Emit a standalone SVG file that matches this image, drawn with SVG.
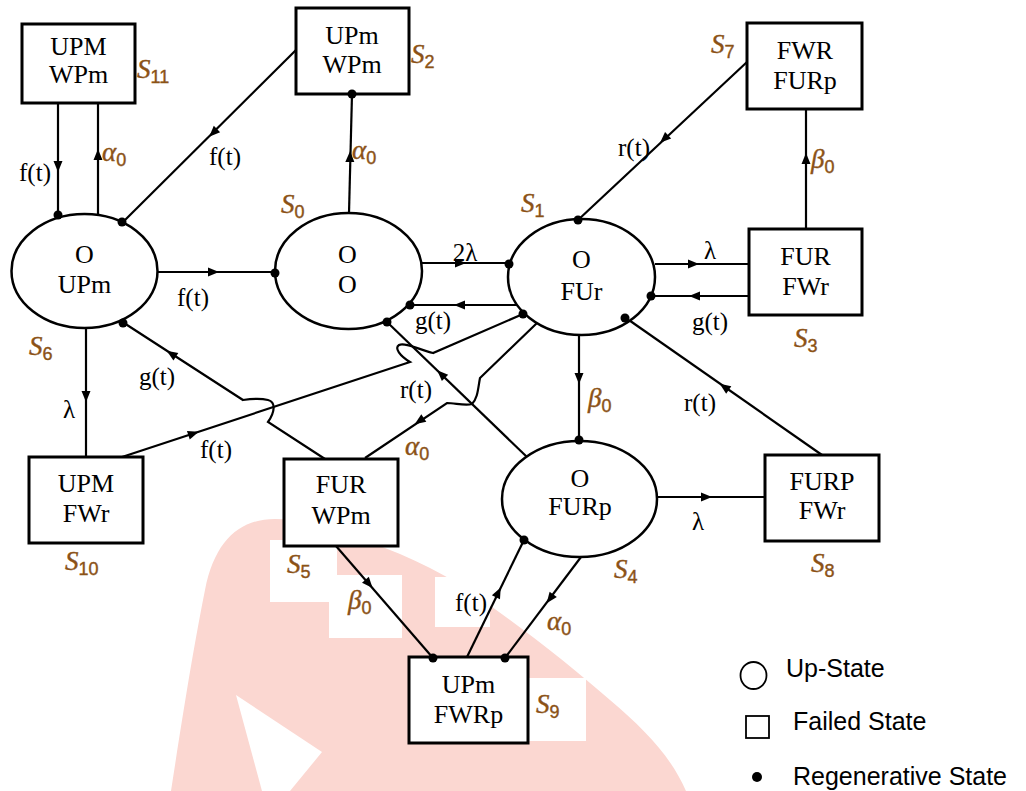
<svg xmlns="http://www.w3.org/2000/svg" xmlns:xlink="http://www.w3.org/1999/xlink" width="1026" height="791" viewBox="0 0 1026 791">
<style>
.box{fill:#fff;stroke:#000;stroke-width:3}
.st{fill:#fff;stroke:#000;stroke-width:2.5}
.ln{fill:none;stroke:#000;stroke-width:2.2}
.dot{fill:#000}
.nt{font-family:"Liberation Serif","Times New Roman",serif;font-size:26px;text-anchor:middle;fill:#000}
.el{font-family:"Liberation Serif","Times New Roman",serif;font-size:25px;text-anchor:middle;fill:#000}
.s{font-family:"Liberation Serif","Times New Roman",serif;font-style:italic;font-size:27px;fill:#8b5216;stroke:#8b5216;stroke-width:0.4}
.sub{font-style:normal;font-size:18px;font-family:"Liberation Sans",Arial,sans-serif}
.lg{font-family:"Liberation Sans",Arial,sans-serif;font-size:25px;fill:#000}
</style>
<defs>
<path id="ah" d="M4,0 L-7,-4.5 L-7,4.5 Z" fill="#000"/>
</defs>
<rect width="1026" height="791" fill="#fff"/>
<g id="watermark">
<path d="M171,791 C185,700 195,640 205,590 C215,540 240,519 275,519 C300,519 320,525 340,532 C380,545 420,560 460,585 C520,625 570,665 610,700 C645,730 670,755 686,791 Z" fill="#fbd7d1"/>
<path d="M236,695 L322,752 L290,791 L262,791 Z" fill="#fff"/>
<rect x="270" y="540" width="67" height="62" fill="#fff"/>
<rect x="329" y="575" width="73" height="63" fill="#fff"/>
<rect x="435" y="577" width="55" height="50" fill="#fff"/>
<rect x="529" y="678" width="57" height="63" fill="#fff"/>
</g>
<g id="connectors">
<path class="ln" d="M58,103 L58,216"/>
<path class="ln" d="M98,214 L98,103"/>
<path class="ln" d="M296,50 L123,222"/>
<path class="ln" d="M349,213 L352,94"/>
<path class="ln" d="M158,272 L275,272"/>
<path class="ln" d="M422,263 L509,263"/>
<path class="ln" d="M517,305 L410,305"/>
<path class="ln" d="M655,264 L749,264"/>
<path class="ln" d="M749,296 L650,296"/>
<path class="ln" d="M747,62 L578,220"/>
<path class="ln" d="M806,229 L806,109"/>
<path class="ln" d="M579,335 L579,441"/>
<path class="ln" d="M822,455 L626,318"/>
<path class="ln" d="M657,497 L765,497"/>
<path class="ln" d="M86,328 L86,457"/>
<path class="ln" d="M122,457 L410,362 C400,356 394,348 399,345 C405,342 420,350 433,353 L523,314"/>
<path class="ln" d="M527,457 L387,322"/>
<path class="ln" d="M325,459 L268,422 C275,412 276,402 268,400 C260,398 250,399 243,400 L124,323"/>
<path class="ln" d="M537,323 L480,378 C478,388 478,398 472,404 C465,406 455,403 447,403 L365,458"/>
<path class="ln" d="M336,546 L433,658"/>
<path class="ln" d="M467,657 L524,540"/>
<path class="ln" d="M581,557 L505,658"/>
<use xlink:href="#ah" transform="translate(58,168) rotate(90)"/>
<use xlink:href="#ah" transform="translate(98,153) rotate(-90)"/>
<use xlink:href="#ah" transform="translate(212,134) rotate(135.2)"/>
<use xlink:href="#ah" transform="translate(350,155) rotate(-88.6)"/>
<use xlink:href="#ah" transform="translate(215,272)"/>
<use xlink:href="#ah" transform="translate(462,263)"/>
<use xlink:href="#ah" transform="translate(458,305) rotate(180)"/>
<use xlink:href="#ah" transform="translate(695,264)"/>
<use xlink:href="#ah" transform="translate(693,296) rotate(180)"/>
<use xlink:href="#ah" transform="translate(663,140) rotate(136.9)"/>
<use xlink:href="#ah" transform="translate(806,157) rotate(-90)"/>
<use xlink:href="#ah" transform="translate(579,380) rotate(90)"/>
<use xlink:href="#ah" transform="translate(723,386) rotate(-145)"/>
<use xlink:href="#ah" transform="translate(708,497)"/>
<use xlink:href="#ah" transform="translate(86,398) rotate(90)"/>
<use xlink:href="#ah" transform="translate(195,433) rotate(-18.25)"/>
<use xlink:href="#ah" transform="translate(440,373) rotate(-136)"/>
<use xlink:href="#ah" transform="translate(170,353) rotate(-147.1)"/>
<use xlink:href="#ah" transform="translate(418,422) rotate(146.1)"/>
<use xlink:href="#ah" transform="translate(370,585) rotate(49.1)"/>
<use xlink:href="#ah" transform="translate(499,591) rotate(-64)"/>
<use xlink:href="#ah" transform="translate(549,600) rotate(127)"/>
<text class="el" x="35" y="181">f(t)</text>
<text class="el" x="225" y="165">f(t)</text>
<text class="el" x="193" y="306">f(t)</text>
<text class="el" x="465" y="261">2λ</text>
<text class="el" x="433" y="329">g(t)</text>
<text class="el" x="710" y="259">λ</text>
<text class="el" x="710" y="330">g(t)</text>
<text class="el" x="634" y="156">r(t)</text>
<text class="el" x="700" y="411">r(t)</text>
<text class="el" x="698" y="530">λ</text>
<text class="el" x="69" y="418">λ</text>
<text class="el" x="216" y="458">f(t)</text>
<text class="el" x="416" y="398">r(t)</text>
<text class="el" x="157" y="385">g(t)</text>
<text class="el" x="471" y="611">f(t)</text>
<text class="s" x="102" y="161">α<tspan class="sub" dy="5">0</tspan></text>
<text class="s" x="352" y="159">α<tspan class="sub" dy="5">0</tspan></text>
<text class="s" x="811" y="168">β<tspan class="sub" dy="5">0</tspan></text>
<text class="s" x="588" y="407">β<tspan class="sub" dy="5">0</tspan></text>
<text class="s" x="405" y="455">α<tspan class="sub" dy="5">0</tspan></text>
<text class="s" x="348" y="609">β<tspan class="sub" dy="5">0</tspan></text>
<text class="s" x="547" y="630">α<tspan class="sub" dy="5">0</tspan></text>
</g>
<g id="S11"><rect class="box" x="22" y="24" width="113" height="79"/><text class="nt" x="78.5" y="55">UPM</text><text class="nt" x="78.5" y="83">WPm</text><text class="s" x="137" y="78">S<tspan class="sub" dy="5">11</tspan></text></g>
<g id="S2"><rect class="box" x="296" y="8" width="113" height="86"/><text class="nt" x="352" y="44">UPm</text><text class="nt" x="352" y="73">WPm</text><text class="s" x="411" y="63">S<tspan class="sub" dy="5">2</tspan></text></g>
<g id="S7"><rect class="box" x="747" y="23" width="115" height="86"/><text class="nt" x="805" y="59">FWR</text><text class="nt" x="805" y="89">FURp</text><text class="s" x="711" y="53">S<tspan class="sub" dy="5">7</tspan></text></g>
<g id="S3"><rect class="box" x="749" y="229" width="113" height="86"/><text class="nt" x="805.5" y="265">FUR</text><text class="nt" x="805.5" y="295">FWr</text><text class="s" x="794" y="347">S<tspan class="sub" dy="5">3</tspan></text></g>
<g id="S8"><rect class="box" x="765" y="455" width="114" height="86"/><text class="nt" x="822" y="490">FURP</text><text class="nt" x="822" y="519">FWr</text><text class="s" x="811" y="572">S<tspan class="sub" dy="5">8</tspan></text></g>
<g id="S10"><rect class="box" x="29" y="457" width="114" height="86"/><text class="nt" x="86" y="492">UPM</text><text class="nt" x="86" y="522">FWr</text><text class="s" x="65" y="570">S<tspan class="sub" dy="5">10</tspan></text></g>
<g id="S5"><rect class="box" x="284" y="459" width="114" height="87"/><text class="nt" x="341" y="493">FUR</text><text class="nt" x="341" y="524">WPm</text><text class="s" x="287" y="573">S<tspan class="sub" dy="5">5</tspan></text></g>
<g id="S9"><rect class="box" x="409" y="657" width="119" height="86"/><text class="nt" x="468.5" y="693">UPm</text><text class="nt" x="468.5" y="723">FWRp</text><text class="s" x="536" y="713">S<tspan class="sub" dy="5">9</tspan></text></g>
<g id="S6"><ellipse class="st" cx="84.5" cy="271" rx="73" ry="57"/><text class="nt" x="84.5" y="263">O</text><text class="nt" x="84.5" y="293">UPm</text><text class="s" x="29" y="355">S<tspan class="sub" dy="5">6</tspan></text></g>
<g id="S0"><ellipse class="st" cx="348.5" cy="271" rx="73.5" ry="58"/><text class="nt" x="347.5" y="263">O</text><text class="nt" x="347.5" y="293">O</text><text class="s" x="281" y="213">S<tspan class="sub" dy="5">0</tspan></text></g>
<g id="S1"><ellipse class="st" cx="581.5" cy="277" rx="73.5" ry="58"/><text class="nt" x="581.5" y="268">O</text><text class="nt" x="581.5" y="300">FUr</text><text class="s" x="521" y="212">S<tspan class="sub" dy="5">1</tspan></text></g>
<g id="S4"><ellipse class="st" cx="579.5" cy="499" rx="77.5" ry="58"/><text class="nt" x="580" y="487" font-size="23">O</text><text class="nt" x="580" y="515" font-size="23">FURp</text><text class="s" x="614" y="578">S<tspan class="sub" dy="5">4</tspan></text></g>
<g id="dots">
<circle class="dot" cx="58" cy="215" r="4.5"/>
<circle class="dot" cx="122" cy="222" r="4.5"/>
<circle class="dot" cx="123" cy="323" r="4.5"/>
<circle class="dot" cx="275" cy="273" r="4.5"/>
<circle class="dot" cx="410" cy="305" r="4.5"/>
<circle class="dot" cx="387" cy="322" r="4.5"/>
<circle class="dot" cx="352" cy="94" r="4.5"/>
<circle class="dot" cx="578" cy="220" r="4.5"/>
<circle class="dot" cx="509" cy="264" r="4.5"/>
<circle class="dot" cx="523" cy="314" r="4.5"/>
<circle class="dot" cx="651" cy="296" r="4.5"/>
<circle class="dot" cx="625" cy="318" r="4.5"/>
<circle class="dot" cx="579" cy="440" r="4.5"/>
<circle class="dot" cx="524" cy="540" r="4.5"/>
<circle class="dot" cx="433" cy="658" r="4.5"/>
<circle class="dot" cx="505" cy="658" r="4.5"/>
</g>
<g id="legend">
<ellipse cx="753.5" cy="675.5" rx="13" ry="13.5" fill="none" stroke="#000" stroke-width="1.8"/>
<text class="lg" x="786" y="677">Up-State</text>
<rect x="746" y="716" width="23" height="22" fill="none" stroke="#000" stroke-width="1.8"/>
<text class="lg" x="793" y="730">Failed State</text>
<circle cx="757" cy="777" r="5" fill="#000"/>
<text class="lg" x="793" y="785">Regenerative State</text>
</g>
</svg>
